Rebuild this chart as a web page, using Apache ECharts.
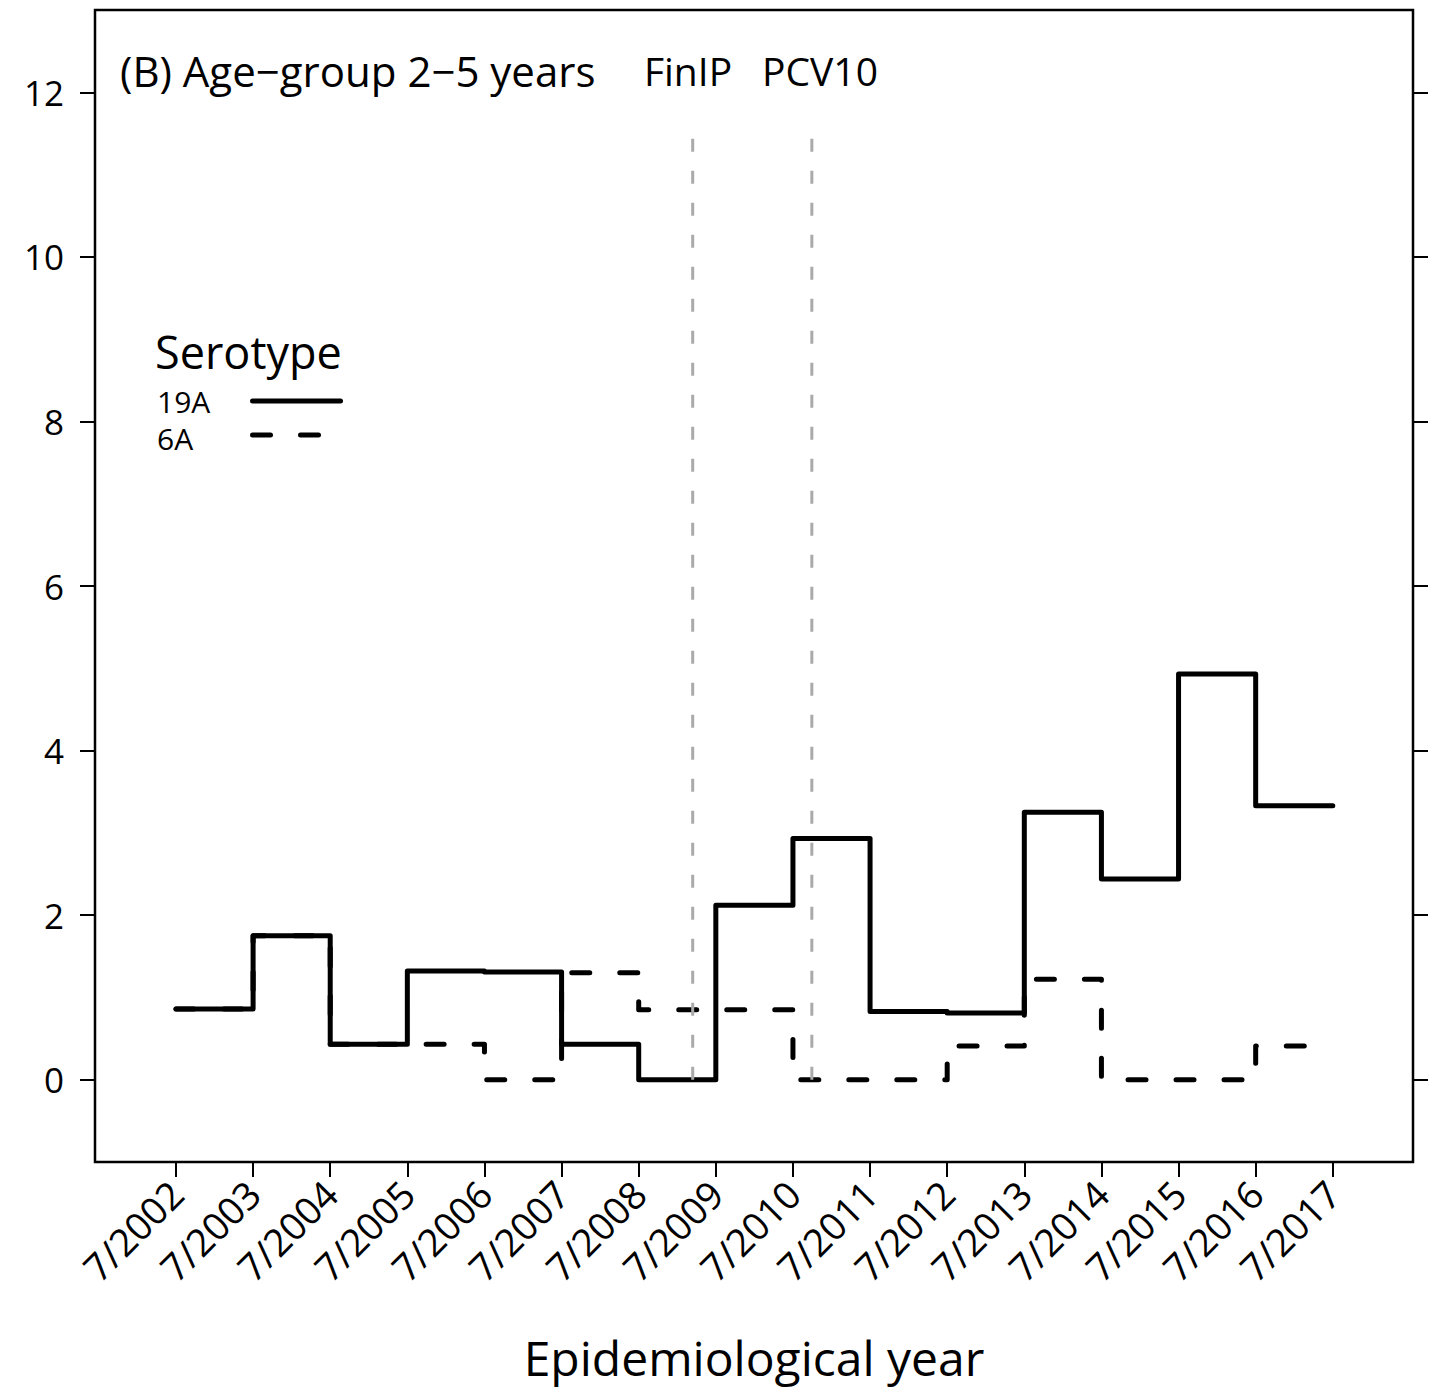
<!DOCTYPE html>
<html><head><meta charset="utf-8">
<script src="https://cdn.jsdelivr.net/npm/echarts@6/dist/echarts.min.js"></script>
<style>html,body{margin:0;padding:0;background:#fff}#c{width:1430px;height:1391px}</style>
</head><body><div id="c"></div>
<script>
// ---- data ----
const yearLabels = ['7/2002','7/2003','7/2004','7/2005','7/2006','7/2007','7/2008','7/2009','7/2010','7/2011','7/2012','7/2013','7/2014','7/2015','7/2016','7/2017'];
const serotype19A = [0.86, 1.75, 0.43, 1.32, 1.31, 0.43, 0, 2.12, 2.93, 0.83, 0.81, 3.25, 2.44, 4.93, 3.33];
const serotype6A  = [0.86, 1.75, 0.43, 0.43, 0, 1.30, 0.85, 0.85, 0, 0, 0.41, 1.22, 0, 0, 0.41];
const interventionNames = ['FinIP', 'PCV10'];
const interventionTimes = [6.70, 8.245];   // years after 7/2002
const interventionTop = 11.45;
const yTicks = [0, 2, 4, 6, 8, 10, 12];
const legendTitle = 'Serotype';
const seriesNames = ['19A', '6A'];
const panelTitle = '(B) Age\u2212group 2\u22125 years';

// ---- build ----
function stepData(vals) {
  const d = vals.map((v, i) => [i, v]);
  d.push([vals.length, vals[vals.length - 1]]);
  return d;
}
const xIdx = yearLabels.map((_, i) => i);
const FONT = "'Open Sans', sans-serif";
const chart = echarts.init(document.getElementById('c'), null, { renderer: 'svg' });

const tickStyle = { color: '#000', width: 2 };
const option = {
  animation: false,
  backgroundColor: '#fff',
  grid: { left: 95, right: 17, top: 10, bottom: 229, show: true, borderColor: '#000', borderWidth: 2.5,
          containLabel: false, outerBoundsMode: 'none' },
  xAxis: {
    type: 'value', min: -1.05, max: 16.04, position: 'bottom',
    axisLine: { show: false, onZero: false }, splitLine: { show: false },
    axisTick: { show: true, customValues: xIdx, length: 15, lineStyle: tickStyle },
    axisLabel: { customValues: xIdx, formatter: v => yearLabels[Math.round(v)], rotate: 45, margin: 25,
      fontSize: 38, color: '#000', fontFamily: FONT },
    name: 'Epidemiological year', nameLocation: 'middle', nameGap: 171,
    nameTextStyle: { fontSize: 48, color: '#000', fontFamily: FONT }
  },
  yAxis: [
    { type: 'value', min: -1, max: 13, position: 'left',
      axisLine: { show: false, onZero: false }, splitLine: { show: false },
      axisTick: { show: true, customValues: yTicks, length: 15, lineStyle: tickStyle },
      axisLabel: { customValues: yTicks, margin: 31, fontSize: 35, color: '#000', fontFamily: FONT,
        padding: [0, 0, 6, 0] } },
    { type: 'value', min: -1, max: 13, position: 'right',
      axisLine: { show: false, onZero: false }, splitLine: { show: false },
      axisTick: { show: true, customValues: yTicks, length: 15, lineStyle: tickStyle },
      axisLabel: { show: false } }
  ],
  series: [
    { name: seriesNames[0], type: 'line', step: 'end', data: stepData(serotype19A), symbol: 'none',
      lineStyle: { color: '#000', width: 5, cap: 'round', join: 'round' }, z: 3 },
    { name: seriesNames[1], type: 'line', step: 'end', data: stepData(serotype6A), symbol: 'none',
      lineStyle: { color: '#000', width: 5, type: [18, 30], cap: 'round', join: 'round' }, z: 3 },
    ...interventionTimes.map((t, i) => ({
      name: interventionNames[i], type: 'line', data: [[t, 0], [t, interventionTop]], symbol: 'none',
      lineStyle: { color: '#aaaaaa', width: 3, type: [13, 19] }, z: 4
    }))
  ],
  graphic: [
    { type: 'text', x: 120, y: 70, style: { text: panelTitle, fontSize: 42, fontFamily: FONT, fill: '#000', align: 'left', verticalAlign: 'middle' } },
    { type: 'text', x: 688, y: 70, style: { text: interventionNames[0], fontSize: 39, fontFamily: FONT, fill: '#000', align: 'center', verticalAlign: 'middle' } },
    { type: 'text', x: 820, y: 70, style: { text: interventionNames[1], fontSize: 39, fontFamily: FONT, fill: '#000', align: 'center', verticalAlign: 'middle' } },
    { type: 'text', x: 155, y: 351, style: { text: legendTitle, fontSize: 45, fontFamily: FONT, fill: '#000', align: 'left', verticalAlign: 'middle' } },
    { type: 'text', x: 157, y: 401, style: { text: seriesNames[0], fontSize: 30, lineHeight: 30, fontFamily: FONT, fill: '#000', align: 'left', verticalAlign: 'middle' } },
    { type: 'text', x: 157, y: 438, style: { text: seriesNames[1], fontSize: 30, lineHeight: 30, fontFamily: FONT, fill: '#000', align: 'left', verticalAlign: 'middle' } },
    { type: 'line', shape: { x1: 252.5, y1: 401, x2: 340.5, y2: 401 }, style: { stroke: '#000', lineWidth: 5, lineCap: 'round' } },
    { type: 'line', shape: { x1: 252.5, y1: 435, x2: 340.5, y2: 435 }, style: { stroke: '#000', lineWidth: 5, lineCap: 'round', lineDash: [18, 30] } }
  ]
};
chart.setOption(option);
</script>
</body></html>
